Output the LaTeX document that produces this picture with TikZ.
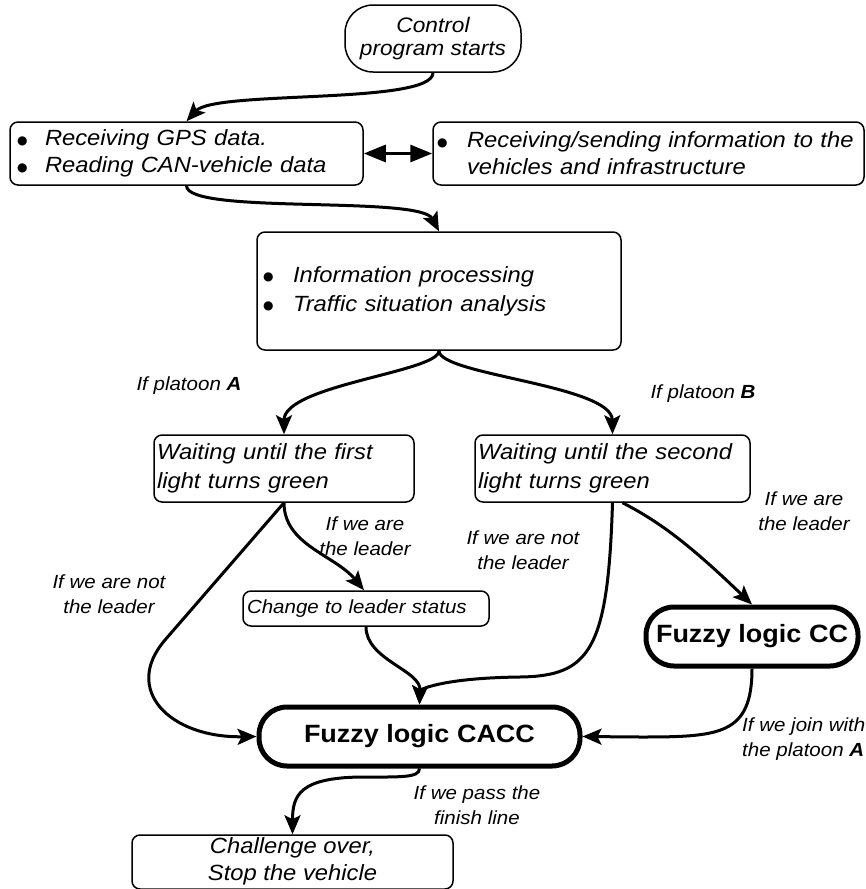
\documentclass[tikz,border=0pt]{standalone}
\usepackage{fontspec}
\setmainfont{Liberation Sans}[FakeStretch=1.08]
\newfontfamily\symf{DejaVu Sans}
\usepackage{tikz}
\usetikzlibrary{arrows.meta, calc}

\newcommand{\bul}[1]{\makebox[#1][l]{\raisebox{1.5pt}{\symf\fontsize{12}{12}\selectfont ●}}}

\begin{document}
\begin{tikzpicture}[x=1pt, y=1pt,
  box/.style={draw, line width=1.5pt, rounded corners=8pt, inner ysep=0pt, align=left,
    font=\fontsize{22}{27}\selectfont\itshape},
  fuzzy/.style={draw, line width=5pt, rounded corners=28pt, minimum height=59pt, inner sep=0pt,
    font=\fontsize{25}{30}\selectfont\bfseries},
  lbl/.style={align=center, inner sep=0pt, font=\fontsize{19}{25}\selectfont\itshape},
  flow/.style={line width=3pt, -{Stealth[length=19pt, width=16pt, inset=4pt]}},
  both/.style={line width=3pt, {Triangle[length=22pt, width=17pt]}-{Triangle[length=22pt, width=17pt]}}]
\useasboundingbox (0,0) rectangle (866,-889);

% boxes
\node[box, rounded corners=28pt, align=center, minimum width=176pt, minimum height=67pt,
  font=\fontsize{21}{23}\selectfont\itshape] (start) at (433,-38.5) {Control\\program starts};
\node[box, text width=339pt, inner xsep=7pt, minimum height=63pt] (gps) at (186.5,-153.5)
  {\bul{28pt}Receiving GPS data.\\\bul{28pt}Reading CAN-vehicle data};
\node[box, text width=423pt, inner xsep=4pt, minimum height=63pt] (comm) at (648.5,-153.5)
  {\bul{30pt}Receiving/sending information to the\\\hspace*{30pt}vehicles and infrastructure};
\node[box, text width=352pt, inner xsep=6pt, minimum height=118pt,
  font=\fontsize{22}{29}\selectfont\itshape] (info) at (439,-291)
  {\bul{30pt}Information processing\\\bul{30pt}Traffic situation analysis};
\node[box, text width=254pt, inner xsep=3pt, minimum height=67pt,
  font=\fontsize{22}{29}\selectfont\itshape] (waitA) at (284,-468.5)
  {Waiting until the first\\light turns green};
\node[box, text width=269pt, inner xsep=3pt, minimum height=67pt,
  font=\fontsize{22}{29}\selectfont\itshape] (waitB) at (612.5,-468.5)
  {Waiting until the second\\light turns green};
\node[box, text width=238pt, inner xsep=4pt, minimum height=35pt,
  font=\fontsize{19}{23}\selectfont\itshape] (leader) at (366,-608.5) {Change to leader status};
\node[fuzzy, minimum width=212pt] (fcc) at (752,-636.5) {Fuzzy logic CC};
\node[fuzzy, minimum width=321pt] (facc) at (419.5,-736.5) {Fuzzy logic CACC};
\node[draw, line width=1.5pt, rounded corners=8pt, inner sep=0pt, minimum width=321pt, minimum height=50pt,
  font=\fontsize{22}{27}\selectfont\itshape] (over) at (292.5,-862)
  {\raisebox{-4pt}{\begin{tabular}{@{}c@{}}Challenge over,\\Stop the vehicle\end{tabular}}};

% labels
\node[lbl] (lplA) at (189,-386) {If platoon \textbf{A}};
\node[lbl] (lplB) at (703,-394) {If platoon \textbf{B}};
\node[lbl] (lleadA) at (365,-536) {If we are\\the leader};
\node[lbl] (lleadB) at (804,-511) {If we are\\the leader};
\node[lbl] (lnotA) at (109,-594) {If we are not\\the leader};
\node[lbl] (lnotB) at (523,-550) {If we are not\\the leader};
\node[lbl] (lfin) at (477,-805) {If we pass the\\finish line};
\node[lbl, align=left, anchor=west] (ljoin) at (742,-739) {If we join with\\the platoon \textbf{A}};

% connectors
\draw[flow] (start.south) .. controls (433,-105) and (215,-90) .. (gps.north);
\draw[flow] (gps.south) .. controls (186.5,-215) and (420,-195) .. (info.north);
\draw[both] (gps.east) -- (comm.west);
\draw[flow] (info.south) .. controls (439,-372) and (284,-385) .. (waitA.north);
\draw[flow] (info.south) .. controls (439,-375) and (612,-385) .. (waitB.north);
\draw[flow] (waitA.south) .. controls (284,-545) and (335,-555) .. ([xshift=-2pt]leader.north);
\draw[flow] (waitA.south) -- (165,-640) .. controls (122,-690) and (170,-738) .. (facc.west);
\draw[flow] (leader.south) .. controls (366,-660) and (421,-670) .. (facc.north);
\draw[flow] (waitB.south) .. controls (608,-650) and (590,-676) .. (520,-677)
  .. controls (440,-678) and (420,-690) .. (facc.north);
\draw[flow] ([xshift=10pt]waitB.south) .. controls (660,-522) and (690,-545) .. (fcc.north);
\draw[flow] (fcc.south) .. controls (752,-735) and (720,-737) .. (640,-737) -- (facc.east);
\draw[flow] (facc.south) .. controls (419.5,-778) and (400,-777) .. (360,-777)
  .. controls (300,-778) and (292.5,-795) .. (over.north);
\end{tikzpicture}
\end{document}
